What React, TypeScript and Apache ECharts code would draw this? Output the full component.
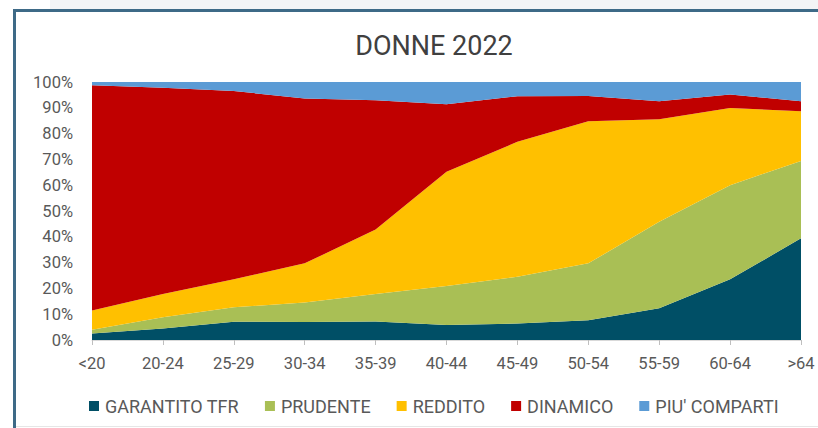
import React, { useEffect, useRef } from "react";
import * as echarts from "echarts";

const categories = ["<20", "20-24", "25-29", "30-34", "35-39", "40-44", "45-49", "50-54", "55-59", "60-64", ">64"];
const garantito = [2.5, 4.5, 7.1, 7.0, 7.2, 5.8, 6.4, 7.7, 12.3, 23.5, 39.4];
const prudente = [1.5, 4.3, 5.6, 7.5, 10.6, 15.1, 18.1, 22.0, 33.5, 36.5, 30.0];
const reddito = [7.4, 9.0, 10.8, 15.2, 25.0, 44.3, 52.3, 55.1, 39.8, 29.9, 19.3];
const dinamico = [87.3, 80.0, 73.0, 63.9, 50.1, 26.2, 17.7, 9.8, 6.9, 5.3, 3.8];
const piuComparti = [1.3, 2.2, 3.5, 6.4, 7.1, 8.6, 5.5, 5.4, 7.5, 4.8, 7.5];

const seriesNames = ["GARANTITO TFR", "PRUDENTE", "REDDITO", "DINAMICO", "PIU' COMPARTI"];
const seriesData = [garantito, prudente, reddito, dinamico, piuComparti];
const colors = ["#004f66", "#a9bf55", "#ffc000", "#c00000", "#5b9bd5"];

export default function App() {
  const ref = useRef<HTMLDivElement>(null);
  useEffect(() => {
    document.body.style.margin = "0";
    const chart = echarts.init(ref.current!, undefined, { renderer: "svg" });
    chart.setOption({
      animation: false,
      title: {
        text: "DONNE 2022",
        left: 429,
        top: 27,
        textAlign: "center",
        textStyle: { fontFamily: "Roboto", fontSize: 27, fontWeight: "normal", color: "#404040" },
      },
      legend: {
        left: 84,
        top: 392,
        itemWidth: 10,
        itemHeight: 10,
        itemGap: 26,
        icon: "rect",
        textStyle: { fontFamily: "Roboto", fontSize: 18, color: "#595959", padding: [0, 0, 0, 1] },
        data: seriesNames,
      },
      grid: { left: 92, right: 17, top: 82, bottom: 88 },
      xAxis: {
        type: "category",
        data: categories,
        boundaryGap: false,
        axisLine: { lineStyle: { color: "#d9d9d9", width: 1 } },
        axisTick: { show: true, length: 5, lineStyle: { color: "#bfbfbf" } },
        axisLabel: { fontFamily: "Roboto", fontSize: 16.5, color: "#595959", margin: 15 },
      },
      yAxis: {
        type: "value",
        min: 0,
        max: 100,
        interval: 10,
        axisLine: { show: false },
        axisTick: { show: false },
        splitLine: { show: false },
        axisLabel: { fontFamily: "Roboto", fontSize: 16.5, color: "#595959", margin: 19, formatter: "{value}%" },
      },
      series: seriesData.map((d, i) => ({
        name: seriesNames[i],
        type: "line",
        stack: "total",
        data: d,
        symbol: "none",
        lineStyle: { width: 0 },
        areaStyle: { color: colors[i], opacity: 1 },
        itemStyle: { color: colors[i] },
      })),
    });
    return () => chart.dispose();
  }, []);
  return (
    <div style={{ position: "fixed", left: 0, top: 0, width: 818, height: 428, background: "#ffffff", overflow: "hidden" }}>
      <div style={{ position: "absolute", left: 50, top: 0, width: 768, height: 9, background: "#f3f4f6" }} />
      <div ref={ref} style={{ position: "absolute", left: 0, top: 0, width: 818, height: 428 }} />
      <div style={{ position: "absolute", left: 13, top: 9, width: 805, height: 3, background: "#3e6a87", pointerEvents: "none" }} />
      <div style={{ position: "absolute", left: 13, top: 9, width: 3, height: 419, background: "#3e6a87", pointerEvents: "none" }} />
      <div style={{ position: "absolute", left: 16, top: 426, width: 802, height: 1, background: "#e6e6e6", pointerEvents: "none" }} />
    </div>
  );
}
